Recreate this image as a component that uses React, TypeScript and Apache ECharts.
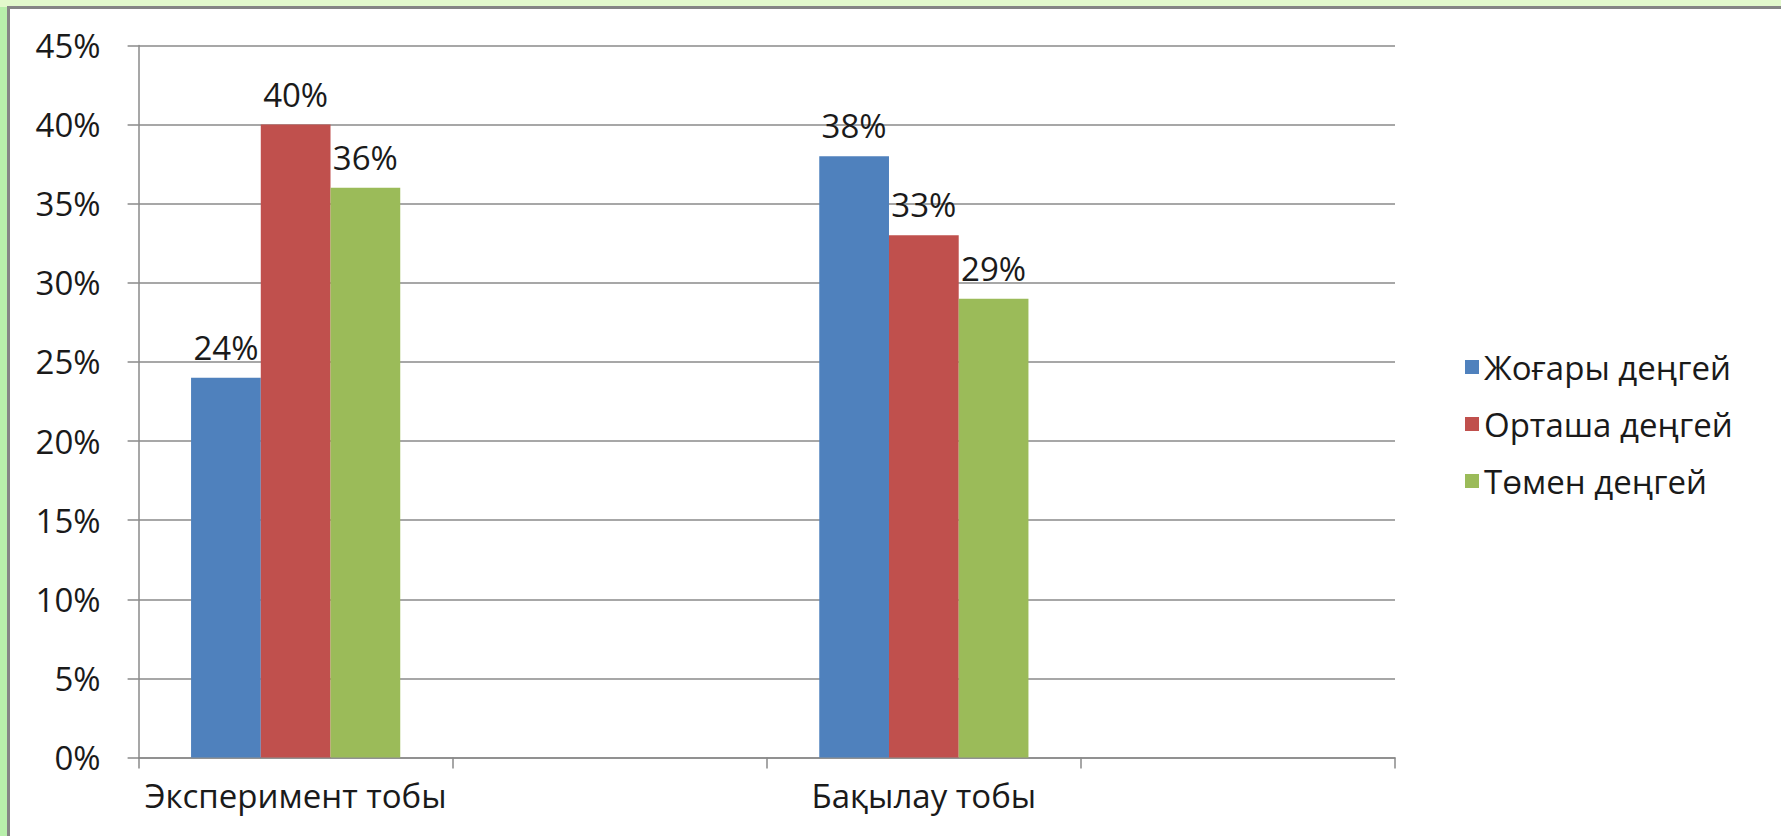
import React, { useEffect, useRef } from "react";
import * as echarts from "echarts";

const categories = ["Эксперимент тобы", "", "Бақылау тобы", " "];
const seriesNames = ["Жоғары деңгей", "Орташа деңгей", "Төмен деңгей"];
const highValues = [24, "-", 38, "-"];
const midValues = [40, "-", 33, "-"];
const lowValues = [36, "-", 29, "-"];
const colors = ["#4F81BD", "#C0504D", "#9BBB59"];

const FONT = "'Open Sans', 'Noto Sans', sans-serif";
const FS = 33;

export default function App() {
  const ref = useRef<HTMLDivElement>(null);

  useEffect(() => {
    document.body.style.margin = "0";
    if (!ref.current) return;
    const chart = echarts.init(ref.current, null, { renderer: "svg" });
    const values = [highValues, midValues, lowValues];
    chart.setOption({
      animation: false,
      textStyle: { fontFamily: FONT, color: "#1a1a1a" },
      grid: { left: 138.6, right: 386, top: 45.4, bottom: 78.4, containLabel: false },
      legend: {
        orient: "vertical",
        left: 1465,
        top: 350,
        padding: 0,
        itemWidth: 14,
        itemHeight: 14,
        itemGap: 23,
        icon: "rect",
        textStyle: { fontFamily: FONT, fontSize: FS, color: "#1a1a1a", lineHeight: 34 },
        data: seriesNames,
      },
      xAxis: {
        type: "category",
        data: categories,
        axisLine: { show: true, lineStyle: { color: "#8a8a8a", width: 1.5 } },
        axisTick: { show: true, length: 11, lineStyle: { color: "#8a8a8a", width: 1.5 } },
        axisLabel: { fontFamily: FONT, fontSize: FS, color: "#1a1a1a", margin: 21, interval: 0 },
        splitLine: { show: false },
      },
      yAxis: {
        type: "value",
        min: 0,
        max: 45,
        interval: 5,
        axisLine: { show: true, lineStyle: { color: "#8a8a8a", width: 1.5 } },
        axisTick: { show: true, length: 11, lineStyle: { color: "#8a8a8a", width: 1.5 } },
        axisLabel: { fontFamily: FONT, fontSize: FS, color: "#1a1a1a", margin: 38, formatter: "{value}%" },
        splitLine: { show: true, lineStyle: { color: "#8a8a8a", width: 1.5 } },
      },
      series: seriesNames.map((name, i) => ({
        name,
        type: "bar",
        data: values[i],
        barGap: "0%",
        barCategoryGap: "33.4%",
        itemStyle: { color: colors[i] },
        label: {
          show: true,
          position: "top",
          distance: 14,
          formatter: "{c}%",
          fontFamily: FONT,
          fontSize: FS,
          color: "#1a1a1a",
        },
      })),
    });
    return () => chart.dispose();
  }, []);

  return (
    <div style={{ position: "fixed", left: 0, top: 0, width: 1781, height: 836, background: "#b8efab", overflow: "hidden" }}>
      <div style={{ position: "absolute", left: 0, top: 0, width: 1781, height: 7, background: "#e2f9cc" }} />
      <div
        style={{
          position: "absolute",
          left: 7,
          top: 6,
          right: 0,
          bottom: 0,
          background: "#ffffff",
          borderTop: "3px solid #858585",
          borderLeft: "3px solid #858585",
        }}
      />
      <div ref={ref} style={{ position: "absolute", left: 0, top: 0, width: 1781, height: 836 }} />
    </div>
  );
}
